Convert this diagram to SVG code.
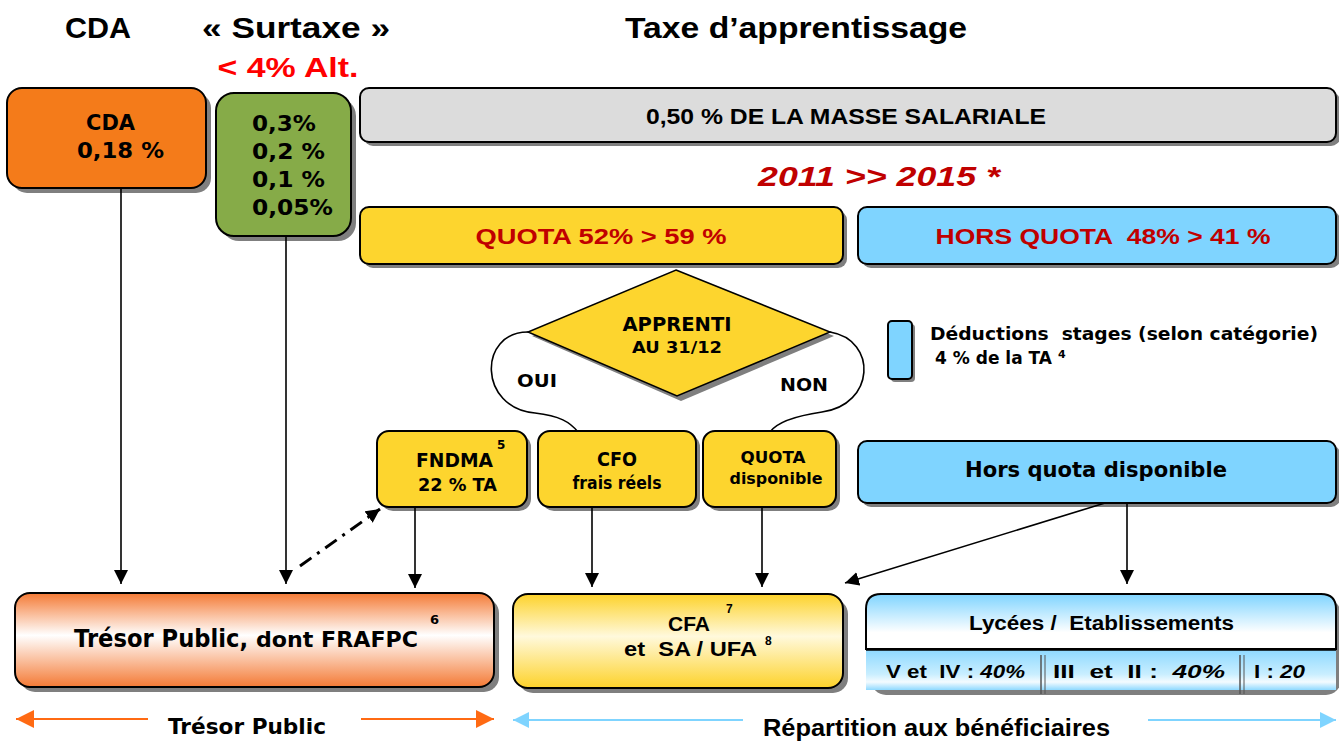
<svg xmlns="http://www.w3.org/2000/svg" width="1339" height="741" viewBox="0 0 1339 741">
<defs>
<style>
.nar{font-family:"Liberation Sans",Arial,sans-serif;font-weight:bold;}
.tah{font-family:"DejaVu Sans","Liberation Sans",sans-serif;font-weight:bold;}
.box{stroke:#000;stroke-width:2;}
.sh{fill:#7f7f7f;}
.ln{stroke:#000;stroke-width:1.6;fill:none;}
.red{fill:#C00000;}
</style>
<marker id="ahb" viewBox="0 0 10 10" refX="10" refY="5" markerWidth="14" markerHeight="14" markerUnits="userSpaceOnUse" orient="auto"><path d="M0,0 L10,5 L0,10 z" fill="#000"/></marker>
<marker id="aho" viewBox="0 0 10 10" refX="10" refY="5" markerWidth="18" markerHeight="18" markerUnits="userSpaceOnUse" orient="auto-start-reverse"><path d="M0,0 L10,5 L0,10 z" fill="#FF6A13"/></marker>
<marker id="ahl" viewBox="0 0 10 10" refX="10" refY="5" markerWidth="16" markerHeight="16" markerUnits="userSpaceOnUse" orient="auto-start-reverse"><path d="M0,0 L10,5 L0,10 z" fill="#7FD4FF"/></marker>
<linearGradient id="gTr" x1="0" y1="0" x2="0" y2="1"><stop offset="0" stop-color="#F47A35"/><stop offset="0.45" stop-color="#FFFFFF"/><stop offset="1" stop-color="#F47A35"/></linearGradient>
<linearGradient id="gCfa" x1="0" y1="0" x2="0" y2="1"><stop offset="0" stop-color="#FDD22A"/><stop offset="0.45" stop-color="#FFF9DC"/><stop offset="1" stop-color="#FDD22A"/></linearGradient>
<linearGradient id="gLy" x1="0" y1="0" x2="0" y2="1"><stop offset="0" stop-color="#7FD4FF"/><stop offset="0.7" stop-color="#FFFFFF"/><stop offset="1" stop-color="#FFFFFF"/></linearGradient>
<linearGradient id="gLy2" x1="0" y1="0" x2="0" y2="1"><stop offset="0" stop-color="#8FD9FF"/><stop offset="0.6" stop-color="#C8EEFF"/><stop offset="0.8" stop-color="#F4FBFF"/><stop offset="1" stop-color="#8FD9FF"/></linearGradient>
</defs>
<rect width="1339" height="741" fill="#fff"/>

<g id="headers">
<text class="nar" x="98" y="38" font-size="30" text-anchor="middle" textLength="66" lengthAdjust="spacingAndGlyphs">CDA</text>
<text class="nar" x="296" y="38" font-size="30" text-anchor="middle" textLength="188" lengthAdjust="spacingAndGlyphs">« Surtaxe »</text>
<text class="nar" x="796" y="38" font-size="30" text-anchor="middle" textLength="342" lengthAdjust="spacingAndGlyphs">Taxe d’apprentissage</text>
<text class="nar" x="288" y="77" font-size="27" fill="#FF0000" text-anchor="middle" textLength="141" lengthAdjust="spacingAndGlyphs">&lt; 4% Alt.</text>
<text class="nar red" x="879" y="186" font-size="28" font-style="italic" text-anchor="middle" textLength="242" lengthAdjust="spacingAndGlyphs">2011 &gt;&gt; 2015 *</text>
</g>

<g id="cda">
<rect class="sh" x="12" y="93" width="199" height="100" rx="15"/>
<rect class="box" x="7" y="88" width="199" height="100" rx="15" fill="#F47B1A"/>
<text class="tah" x="86" y="130" font-size="21" textLength="49" lengthAdjust="spacingAndGlyphs">CDA</text>
<text class="tah" x="77" y="158" font-size="21" textLength="87" lengthAdjust="spacingAndGlyphs">0,18 %</text>
</g>

<g id="surtaxe">
<rect class="sh" x="221" y="98" width="135" height="143" rx="18"/>
<rect class="box" x="216" y="93" width="135" height="143" rx="18" fill="#86AB48"/>
<text class="tah" x="252" y="131" font-size="21" textLength="64" lengthAdjust="spacingAndGlyphs">0,3%</text>
<text class="tah" x="252" y="159" font-size="21" textLength="73" lengthAdjust="spacingAndGlyphs">0,2 %</text>
<text class="tah" x="252" y="187" font-size="21" textLength="73" lengthAdjust="spacingAndGlyphs">0,1 %</text>
<text class="tah" x="252" y="215" font-size="21" textLength="81" lengthAdjust="spacingAndGlyphs">0,05%</text>
</g>

<g id="masse">
<rect class="sh" x="364" y="92" width="976" height="54" rx="9"/>
<rect class="box" x="360" y="88" width="976" height="54" rx="9" fill="#DCDCDC"/>
<text class="nar" x="846" y="124" font-size="22" text-anchor="middle" textLength="400" lengthAdjust="spacingAndGlyphs">0,50 % DE LA MASSE SALARIALE</text>
</g>

<g id="quota">
<rect class="sh" x="364" y="211" width="483" height="57" rx="9"/>
<rect class="box" x="360" y="207" width="483" height="57" rx="9" fill="#FDD52E"/>
<text class="nar red" x="601" y="244" font-size="22" text-anchor="middle" textLength="251" lengthAdjust="spacingAndGlyphs">QUOTA 52% &gt; 59 %</text>
</g>

<g id="horsquota">
<rect class="sh" x="862" y="211" width="478" height="57" rx="9"/>
<rect class="box" x="858" y="207" width="478" height="57" rx="9" fill="#7FD4FF"/>
<text class="nar red" x="1103" y="244" font-size="22" text-anchor="middle" textLength="335" lengthAdjust="spacingAndGlyphs" xml:space="preserve">HORS QUOTA  48% &gt; 41 %</text>
</g>

<g id="apprenti">
<path class="ln" d="M528,332 C478,332 478,408 535,413 C560,416 570,422 578,432"/>
<path class="ln" d="M830,332 C878,340 875,405 822,412 C795,416 777,422 770,432"/>
<path d="M680,275 L834,336 L681,401 L532,336 Z" fill="#7f7f7f"/>
<path d="M676,270 L830,332 L677,396 L528,332 Z" fill="#FDD52E" stroke="#000" stroke-width="1.5"/>
<text class="tah" x="677" y="331" font-size="19" text-anchor="middle" textLength="109" lengthAdjust="spacingAndGlyphs">APPRENTI</text>
<text class="tah" x="677" y="353" font-size="16.5" text-anchor="middle" textLength="90" lengthAdjust="spacingAndGlyphs">AU 31/12</text>
<text class="tah" x="537" y="387" font-size="18" text-anchor="middle" textLength="40" lengthAdjust="spacingAndGlyphs">OUI</text>
<text class="tah" x="804" y="391" font-size="18" text-anchor="middle" textLength="48" lengthAdjust="spacingAndGlyphs">NON</text>
</g>

<g id="deductions">
<rect class="sh" x="891" y="324" width="24" height="58" rx="4"/>
<rect class="box" x="888" y="321" width="24" height="58" rx="4" fill="#7FD4FF"/>
<text class="tah" x="930" y="340" font-size="18" textLength="388" lengthAdjust="spacingAndGlyphs" xml:space="preserve">Déductions  stages (selon catégorie)</text>
<text class="tah" x="935" y="364" font-size="18" textLength="117" lengthAdjust="spacingAndGlyphs">4 % de la TA</text>
<text class="tah" x="1058" y="358" font-size="11">4</text>
</g>

<g id="fndma">
<rect class="sh" x="381" y="435" width="150" height="76" rx="12"/>
<rect class="box" x="377" y="431" width="150" height="76" rx="12" fill="#FDD52E"/>
<text class="tah" x="416" y="467" font-size="20" textLength="77" lengthAdjust="spacingAndGlyphs">FNDMA</text>
<text class="tah" x="497" y="449" font-size="12">5</text>
<text class="tah" x="418" y="491" font-size="18" textLength="79" lengthAdjust="spacingAndGlyphs">22 % TA</text>
</g>

<g id="cfo">
<rect class="sh" x="542" y="435" width="158" height="76" rx="12"/>
<rect class="box" x="538" y="431" width="158" height="76" rx="12" fill="#FDD52E"/>
<text class="tah" x="617" y="466" font-size="20" text-anchor="middle" textLength="40" lengthAdjust="spacingAndGlyphs">CFO</text>
<text class="tah" x="617" y="489" font-size="17" text-anchor="middle" textLength="89" lengthAdjust="spacingAndGlyphs">frais réels</text>
</g>

<g id="quotadispo">
<rect class="sh" x="707" y="435" width="133" height="76" rx="12"/>
<rect class="box" x="703" y="431" width="133" height="76" rx="12" fill="#FDD52E"/>
<text class="tah" x="773" y="463" font-size="16.5" text-anchor="middle" textLength="65" lengthAdjust="spacingAndGlyphs">QUOTA</text>
<text class="tah" x="776" y="484" font-size="16.5" text-anchor="middle" textLength="93" lengthAdjust="spacingAndGlyphs">disponible</text>
</g>

<g id="horsdispo">
<rect class="sh" x="862" y="445" width="478" height="62" rx="9"/>
<rect class="box" x="858" y="441" width="478" height="62" rx="9" fill="#7FD4FF"/>
<text class="tah" x="965" y="477" font-size="21.5" textLength="262" lengthAdjust="spacingAndGlyphs">Hors quota disponible</text>
</g>

<g id="tresor">
<rect class="sh" x="20" y="598" width="479" height="94" rx="15"/>
<rect class="box" x="15" y="593" width="479" height="94" rx="15" fill="url(#gTr)"/>
<text class="tah" x="74" y="647" font-size="24" textLength="174" lengthAdjust="spacingAndGlyphs">Trésor Public,</text>
<text class="tah" x="256" y="647" font-size="21" textLength="162" lengthAdjust="spacingAndGlyphs">dont FRAFPC</text>
<text class="tah" x="430" y="624" font-size="13">6</text>
</g>

<g id="cfa">
<rect class="sh" x="518" y="599" width="330" height="94" rx="15"/>
<rect class="box" x="513" y="594" width="330" height="94" rx="15" fill="url(#gCfa)"/>
<text class="nar" x="668" y="631" font-size="21" textLength="42" lengthAdjust="spacingAndGlyphs">CFA</text>
<text class="nar" x="726" y="613" font-size="12">7</text>
<text class="nar" x="624" y="656" font-size="21" xml:space="preserve" textLength="133" lengthAdjust="spacingAndGlyphs">et  SA / UFA</text>
<text class="nar" x="765" y="645" font-size="12">8</text>
</g>

<g id="lycees">
<rect class="sh" x="871" y="599" width="470" height="96" rx="15"/>
<path d="M881,594 H1321 Q1336,594 1336,609 V649 H866 V609 Q866,594 881,594 Z" fill="url(#gLy)" stroke="#000" stroke-width="2"/>
<rect x="866" y="650" width="470" height="40" fill="url(#gLy2)"/>
<line x1="866" y1="650" x2="1336" y2="650" stroke="#000" stroke-width="1.5"/>
<line x1="1041" y1="655" x2="1041" y2="694" stroke="#555" stroke-width="1.5"/>
<line x1="1045" y1="655" x2="1045" y2="694" stroke="#555" stroke-width="1"/>
<line x1="1240" y1="655" x2="1240" y2="694" stroke="#555" stroke-width="1.5"/>
<line x1="1244" y1="655" x2="1244" y2="694" stroke="#555" stroke-width="1"/>
<text class="nar" x="969" y="630" font-size="20" textLength="265" lengthAdjust="spacingAndGlyphs" xml:space="preserve">Lycées /  Etablissements</text>
<text class="nar" x="886" y="678" font-size="19" textLength="139" lengthAdjust="spacingAndGlyphs" xml:space="preserve">V et  IV : <tspan font-style="italic">40%</tspan></text>
<text class="nar" x="1053" y="678" font-size="19" textLength="172" lengthAdjust="spacingAndGlyphs" xml:space="preserve">III  et  II :  <tspan font-style="italic">40%</tspan></text>
<text class="nar" x="1254" y="678" font-size="19" textLength="51" lengthAdjust="spacingAndGlyphs" xml:space="preserve">I : <tspan font-style="italic">20</tspan></text>
</g>

<g id="connectors">
<line class="ln" x1="121" y1="188" x2="121" y2="584" marker-end="url(#ahb)"/>
<line class="ln" x1="286" y1="236" x2="286" y2="584" marker-end="url(#ahb)"/>
<line x1="300" y1="566" x2="380" y2="509" stroke="#000" stroke-width="3" stroke-dasharray="14,7,3,7" marker-end="url(#ahb)"/>
<line class="ln" x1="415" y1="507" x2="415" y2="588" marker-end="url(#ahb)"/>
<line class="ln" x1="592" y1="507" x2="592" y2="587" marker-end="url(#ahb)"/>
<line class="ln" x1="762" y1="507" x2="762" y2="587" marker-end="url(#ahb)"/>
<line class="ln" x1="1105" y1="503" x2="845" y2="583" marker-end="url(#ahb)"/>
<line class="ln" x1="1127" y1="503" x2="1127" y2="584" marker-end="url(#ahb)"/>
</g>

<g id="footer">
<line x1="16" y1="719" x2="148" y2="719" stroke="#FF6A13" stroke-width="2" marker-start="url(#aho)"/>
<line x1="361" y1="719" x2="494" y2="719" stroke="#FF6A13" stroke-width="2" marker-end="url(#aho)"/>
<text class="tah" x="168" y="734" font-size="21" textLength="158" lengthAdjust="spacingAndGlyphs">Trésor Public</text>
<line x1="513" y1="720" x2="743" y2="720" stroke="#7FD4FF" stroke-width="2" marker-start="url(#ahl)"/>
<line x1="1148" y1="720" x2="1336" y2="720" stroke="#7FD4FF" stroke-width="2" marker-end="url(#ahl)"/>
<text class="nar" x="763" y="736" font-size="23" textLength="347" lengthAdjust="spacingAndGlyphs">Répartition aux bénéficiaires</text>
</g>
</svg>
